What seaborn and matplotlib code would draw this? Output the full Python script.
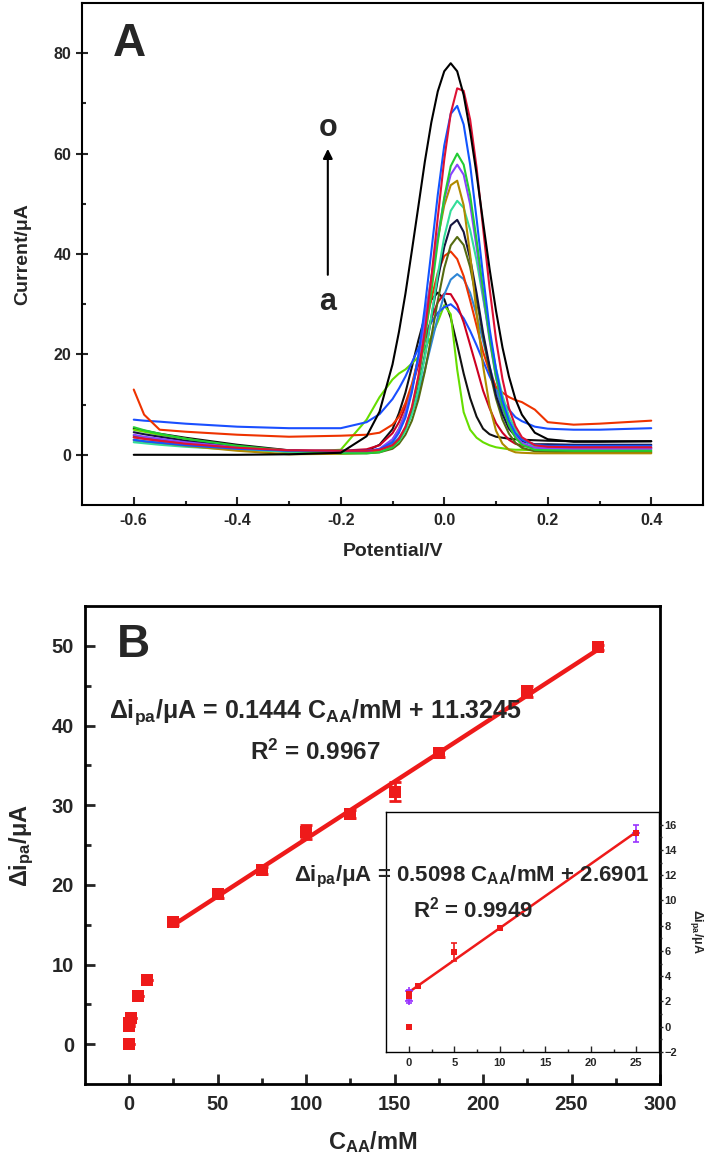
import numpy as np
import pandas as pd
import matplotlib
matplotlib.use('Agg')
import matplotlib.pyplot as plt
import seaborn as sns

# ---------------- Panel A: DPV curves a..o ----------------
potential = [-0.6, -0.58, -0.55, -0.5, -0.4, -0.3, -0.2, -0.15, -0.125, -0.1, -0.0875, -0.075,
             -0.0625, -0.05, -0.0375, -0.025, -0.0125, 0.0, 0.0125, 0.025, 0.0375, 0.05, 0.0625,
             0.075, 0.0875, 0.1, 0.1125, 0.125, 0.1375, 0.15, 0.175, 0.2, 0.25, 0.3, 0.4]

curve_a = [5.2, 4.8, 4.2, 3.4, 2.0, 0.9, 0.5, 0.8, 2.0, 5.1, 8.3, 12.4, 17.5, 22.8, 27.5, 30.9, 32.3, 31.0,
           27.3, 21.9, 16.2, 11.3, 7.6, 5.2, 4.1, 3.6, 3.4, 3.2, 3.1, 3.0, 2.9, 2.8, 2.7, 2.7, 2.7]
curve_b = [5.0, 4.6, 4.0, 3.2, 1.5, 0.5, 1.0, 7.0, 11.5, 15.0, 16.2, 17.0, 18.2, 19.5, 21.2, 23.5, 26.5, 29.8,
           28.0, 17.0, 8.5, 5.0, 3.4, 2.5, 1.9, 1.5, 1.3, 1.1, 1.0, 1.0, 0.9, 0.8, 0.7, 0.7, 0.7]
curve_c = [7.0, 6.8, 6.6, 6.2, 5.6, 5.3, 5.3, 6.5, 8.1, 11.1, 13.2, 15.6, 18.4, 21.2, 24.0, 26.4, 28.3, 29.4,
           30.0, 28.9, 27.2, 24.7, 21.8, 18.7, 15.7, 13.1, 10.7, 9.0, 7.5, 6.7, 5.6, 5.2, 5.0, 5.0, 5.3]
curve_d = [3.5, 3.2, 2.8, 2.3, 1.5, 0.9, 0.8, 1.1, 1.9, 4.3, 6.5, 9.6, 13.4, 18.0, 22.7, 27.1, 30.4, 32.1,
           32.0, 29.9, 26.4, 21.9, 17.4, 12.8, 9.3, 6.3, 4.4, 3.0, 2.2, 1.8, 1.5, 1.4, 1.3, 1.3, 1.3]
curve_e = [2.8, 2.6, 2.3, 2.0, 1.3, 0.8, 0.6, 0.7, 1.0, 2.1, 3.4, 5.2, 8.3, 12.1, 16.9, 22.1, 27.4, 31.9,
           34.9, 36.0, 35.0, 32.3, 27.9, 22.7, 17.6, 13.0, 9.2, 6.0, 4.3, 3.0, 1.9, 1.6, 1.5, 1.5, 1.5]
curve_f = [13.0, 8.0, 5.0, 4.6, 4.0, 3.6, 3.8, 4.0, 4.4, 6.0, 7.6, 10.3, 14.1, 19.2, 24.9, 31.0, 36.3, 39.6,
           40.5, 39.0, 35.6, 30.8, 25.7, 20.5, 16.6, 13.5, 12.4, 11.5, 10.9, 10.5, 9.0, 6.5, 6.0, 6.2, 6.8]
curve_g = [3.8, 3.4, 3.0, 2.4, 1.4, 0.6, 0.3, 0.3, 0.5, 1.2, 2.2, 4.0, 6.8, 11.0, 16.6, 23.5, 30.7, 37.2,
           41.7, 43.4, 41.8, 37.4, 30.9, 23.7, 16.8, 11.2, 7.0, 4.2, 2.4, 1.4, 0.7, 0.6, 0.5, 0.5, 0.5]
curve_h = [4.5, 4.1, 3.6, 2.8, 1.6, 0.8, 0.6, 0.6, 0.8, 1.8, 3.0, 5.1, 8.5, 13.4, 19.8, 27.3, 34.9, 41.4,
           45.7, 46.8, 44.4, 39.1, 32.2, 24.3, 17.7, 11.8, 8.1, 5.2, 3.7, 2.7, 2.1, 2.1, 2.0, 2.0, 2.0]
curve_i = [2.5, 2.3, 2.0, 1.6, 1.0, 0.6, 0.5, 0.5, 0.7, 1.6, 2.7, 4.8, 8.1, 13.0, 19.5, 27.5, 35.9, 43.4,
           48.6, 50.6, 49.2, 44.8, 38.7, 31.2, 23.9, 17.2, 11.8, 7.7, 5.0, 3.2, 1.6, 1.1, 1.0, 1.0, 1.0]
curve_j = [3.0, 2.7, 2.4, 1.8, 0.8, 0.1, 0.2, 0.4, 0.9, 3.0, 5.2, 8.5, 13.3, 19.5, 27.1, 35.2, 43.1, 49.7,
           53.7, 54.6, 49.7, 39.9, 28.2, 17.7, 9.8, 4.8, 2.2, 1.0, 0.5, 0.4, 0.3, 0.3, 0.3, 0.3, 0.3]
curve_k = [4.0, 3.6, 3.2, 2.5, 1.5, 0.8, 0.6, 0.7, 1.2, 3.1, 5.1, 8.3, 12.9, 19.1, 26.7, 35.2, 43.6, 50.9,
           55.8, 57.8, 55.8, 49.9, 41.3, 31.9, 22.9, 15.4, 9.9, 6.0, 3.7, 2.4, 1.4, 1.3, 1.2, 1.2, 1.2]
curve_l = [5.5, 4.9, 4.2, 3.2, 1.8, 0.8, 0.3, 0.3, 0.5, 1.5, 2.9, 5.4, 9.3, 15.1, 22.9, 32.4, 42.4, 51.3,
           57.5, 60.0, 57.8, 51.7, 42.8, 32.9, 23.4, 15.6, 9.8, 5.9, 3.4, 2.0, 1.0, 0.9, 0.8, 0.8, 0.8]
curve_m = [3.0, 2.7, 2.4, 1.9, 1.2, 0.8, 0.8, 0.8, 1.1, 2.5, 4.4, 7.4, 12.5, 19.8, 29.4, 40.5, 51.8, 61.6,
           67.9, 69.5, 65.8, 57.8, 47.0, 35.7, 25.2, 17.1, 10.8, 6.8, 4.3, 3.0, 2.0, 1.8, 1.8, 1.8, 1.8]
curve_n = [3.5, 3.2, 2.8, 2.2, 1.4, 0.9, 0.8, 0.8, 1.0, 1.9, 3.2, 5.6, 9.5, 15.7, 24.4, 35.2, 47.3, 58.8,
           68.0, 73.0, 72.5, 66.8, 57.2, 45.2, 33.3, 23.0, 15.1, 9.3, 5.7, 3.5, 1.9, 1.6, 1.5, 1.5, 1.5]
curve_o = [0.0, 0.0, 0.0, 0.0, 0.0, 0.1, 0.4, 3.7, 8.6, 18.0, 24.5, 32.1, 40.7, 49.5, 58.4, 66.2, 72.4, 76.4,
           78.0, 76.4, 71.7, 64.5, 55.9, 46.4, 37.1, 28.7, 21.4, 15.6, 11.1, 8.0, 4.4, 3.1, 2.6, 2.6, 2.7]

curves = [curve_a, curve_b, curve_c, curve_d, curve_e, curve_f, curve_g, curve_h,
          curve_i, curve_j, curve_k, curve_l, curve_m, curve_n, curve_o]
curve_names = list('abcdefghijklmno')
curve_colors = ['#111111', '#66dd00', '#1a4fff', '#cc0022', '#2e86d6', '#ee3300', '#556b10',
                '#15153f', '#33dd99', '#b08a00', '#8844ff', '#22cc33', '#1155ff', '#dd1133', '#000000']

# ---------------- Panel B: calibration data ----------------
conc = [0, 0, 0, 1, 5, 10, 25, 50, 75, 100, 125, 150, 175, 225, 265]
dipa = [0.0, 2.3, 2.7, 3.3, 6.0, 8.0, 15.3, 18.8, 21.8, 26.6, 28.9, 31.7, 36.5, 44.3, 49.8]
dipa_err = [0, 0, 0, 0, 0, 0, 0.4, 0.4, 0.4, 0.9, 0.5, 1.2, 0.4, 0.7, 0.3]

# inset (low concentration range)
conc_in = [0, 0, 0, 1, 5, 10, 25]
dipa_in = [0.0, 2.4, 2.6, 3.2, 5.9, 7.8, 15.3]
err_in = [0, 0.1, 0.1, 0.1, 0.7, 0.1, 0.1]
conc_pl = [0, 0, 25]
dipa_pl = [2.0, 2.8, 15.3]
err_pl = [0.1, 0.1, 0.7]

RED = '#ee1a1a'

sns.set_theme(style='ticks')
plt.rcParams['font.family'] = ['Liberation Sans', 'DejaVu Sans']
plt.rcParams['font.weight'] = 'bold'
plt.rcParams['axes.labelweight'] = 'bold'
plt.rcParams['mathtext.fontset'] = 'custom'
plt.rcParams['mathtext.rm'] = 'Liberation Sans:bold'
plt.rcParams['mathtext.it'] = 'Liberation Sans:bold'
plt.rcParams['mathtext.bf'] = 'Liberation Sans:bold'
plt.rcParams['mathtext.default'] = 'rm'

W, H = 707, 1164
fig = plt.figure(figsize=(W / 100, H / 100), dpi=100)


def box(l, t, r, b):
    return [l / W, 1 - b / H, (r - l) / W, (b - t) / H]


# ======== Panel A ========
axA = fig.add_axes(box(82, 3, 703, 505))
rows = []
for name, ys in zip(curve_names, curves):
    for x, y in zip(potential, ys):
        rows.append((name, x, y))
dfA = pd.DataFrame(rows, columns=['curve', 'potential', 'current'])
sns.lineplot(data=dfA, x='potential', y='current', hue='curve', palette=curve_colors,
             estimator=None, sort=False, legend=False, linewidth=1.5, ax=axA)

axA.set_xlim(-0.7, 0.5)
axA.set_ylim(-10, 90)
axA.set_xticks(np.arange(-0.6, 0.41, 0.2))
axA.set_xticklabels(['-0.6', '-0.4', '-0.2', '0.0', '0.2', '0.4'])
axA.set_xticks(np.arange(-0.5, 0.31, 0.2), minor=True)
axA.set_yticks([0, 20, 40, 60, 80])
axA.set_yticks([10, 30, 50, 70], minor=True)
axA.tick_params(axis='x', which='major', direction='in', length=6, width=1.5, labelsize=11.5, pad=6)
axA.tick_params(axis='x', which='minor', direction='in', length=3, width=1.5)
axA.tick_params(axis='y', which='major', direction='inout', length=9, width=1.5, labelsize=11.5, pad=3)
axA.tick_params(axis='y', which='minor', direction='in', length=3, width=1.5)
for s in axA.spines.values():
    s.set_linewidth(1.5)
    s.set_color('black')
axA.set_xlabel('Potential/V', fontsize=14)
axA.set_ylabel('Current/μA', fontsize=14)
axA.xaxis.set_label_coords(0.5, -0.075)
axA.yaxis.set_label_coords(-0.082, 0.5)
axA.text(0.05, 0.919, 'A', transform=axA.transAxes, fontsize=33, fontweight='bold',
         ha='left', va='center')
axA.annotate('', xy=(-0.225, 61.5), xytext=(-0.225, 35.3),
             arrowprops=dict(arrowstyle='-|>', lw=1.5, color='black', mutation_scale=14))
axA.text(-0.225, 65, 'o', fontsize=22, fontweight='bold', ha='center', va='center')
axA.text(-0.225, 30.5, 'a', fontsize=22, fontweight='bold', ha='center', va='center')

# ======== Panel B ========
axB = fig.add_axes(box(85, 606, 660, 1084))
dfB = pd.DataFrame({'conc': conc, 'dipa': dipa, 'err': dipa_err})
lin = dfB[dfB['conc'] >= 25]
sns.regplot(data=lin, x='conc', y='dipa', ci=None, scatter=False, truncate=True,
            line_kws=dict(color=RED, lw=3.2), ax=axB)
axB.errorbar(dfB['conc'], dfB['dipa'], yerr=dfB['err'], fmt='none', ecolor=RED,
             elinewidth=2, capsize=4.5, capthick=2, zorder=3)
sns.scatterplot(data=dfB, x='conc', y='dipa', marker='s', s=75, color=RED,
                edgecolor=RED, linewidth=0, zorder=4, ax=axB)
axB.set_xlim(-25, 300)
axB.set_ylim(-5, 55)
axB.set_xticks(np.arange(0, 301, 50))
axB.set_xticks(np.arange(25, 300, 50), minor=True)
axB.set_yticks(np.arange(0, 51, 10))
axB.set_yticks(np.arange(5, 50, 10), minor=True)
axB.tick_params(which='major', direction='in', length=7, width=2, labelsize=14.5, pad=8)
axB.tick_params(which='minor', direction='in', length=4, width=2)
for s in axB.spines.values():
    s.set_linewidth(2)
    s.set_color('black')
axB.set_xlabel('C$_{AA}$/mM', fontsize=17)
axB.set_ylabel('Δi$_{pa}$/μA', fontsize=17)
axB.xaxis.set_label_coords(0.5, -0.095)
axB.yaxis.set_label_coords(-0.085, 0.5)
axB.text(0.056, 0.918, 'B', transform=axB.transAxes, fontsize=33, fontweight='bold',
         ha='left', va='center')

# ======== Inset ========
axI = fig.add_axes(box(386, 812, 659, 1052))
dfI = pd.DataFrame({'conc': conc_in, 'dipa': dipa_in, 'err': err_in})
sns.regplot(data=dfI[dfI['dipa'] > 0], x='conc', y='dipa', ci=None, scatter=False,
            truncate=True, line_kws=dict(color=RED, lw=1.8), ax=axI)
axI.errorbar(conc_pl, dipa_pl, yerr=err_pl, fmt='none', ecolor='#9933ff',
             elinewidth=1.2, capsize=2, capthick=1.2, zorder=3)
sns.scatterplot(x=conc_pl, y=dipa_pl, marker='+', s=40, color='#9933ff', linewidth=1.2,
                zorder=3, ax=axI)
axI.errorbar(dfI['conc'], dfI['dipa'], yerr=dfI['err'], fmt='none', ecolor=RED,
             elinewidth=1.2, capsize=2.5, capthick=1.2, zorder=4)
sns.scatterplot(data=dfI, x='conc', y='dipa', marker='s', s=22, color=RED,
                edgecolor=RED, linewidth=0, zorder=5, ax=axI)
axI.set_xlim(-2.5, 27.5)
axI.set_ylim(-2, 17)
axI.set_xticks(np.arange(0, 26, 5))
axI.set_xticks(np.arange(2.5, 27.5, 5), minor=True)
axI.set_yticks(np.arange(-2, 17, 2))
axI.set_yticks(np.arange(-1, 17, 2), minor=True)
axI.yaxis.tick_right()
axI.tick_params(axis='x', which='major', direction='in', length=4, width=1, labelsize=8, pad=4)
axI.tick_params(axis='x', which='minor', direction='in', length=2, width=1)
axI.tick_params(axis='y', which='major', direction='out', length=3, width=1, labelsize=8, pad=1)
axI.tick_params(axis='y', which='minor', direction='out', length=2, width=1)
for s in axI.spines.values():
    s.set_linewidth(1)
    s.set_color('black')
axI.set_xlabel('')
axI.set_ylabel('')
fig.text(697 / W, 1 - 931 / H, 'Δi$_{pa}$/μA', rotation=270, fontsize=9,
         fontweight='bold', ha='center', va='center')

# equations
fig.text(315 / W, 1 - 712 / H, 'Δi$_{pa}$/μA = 0.1444 C$_{AA}$/mM + 11.3245',
         fontsize=18, fontweight='bold', ha='center', va='center')
fig.text(315 / W, 1 - 752 / H, 'R$^{2}$ = 0.9967', fontsize=17.5, fontweight='bold',
         ha='center', va='center')
fig.text(472 / W, 1 - 877 / H, 'Δi$_{pa}$/μA = 0.5098 C$_{AA}$/mM + 2.6901',
         fontsize=16, fontweight='bold', ha='center', va='center')
fig.text(473 / W, 1 - 910 / H, 'R$^{2}$ = 0.9949', fontsize=16, fontweight='bold',
         ha='center', va='center')

fig.savefig('out.png', dpi=100)
